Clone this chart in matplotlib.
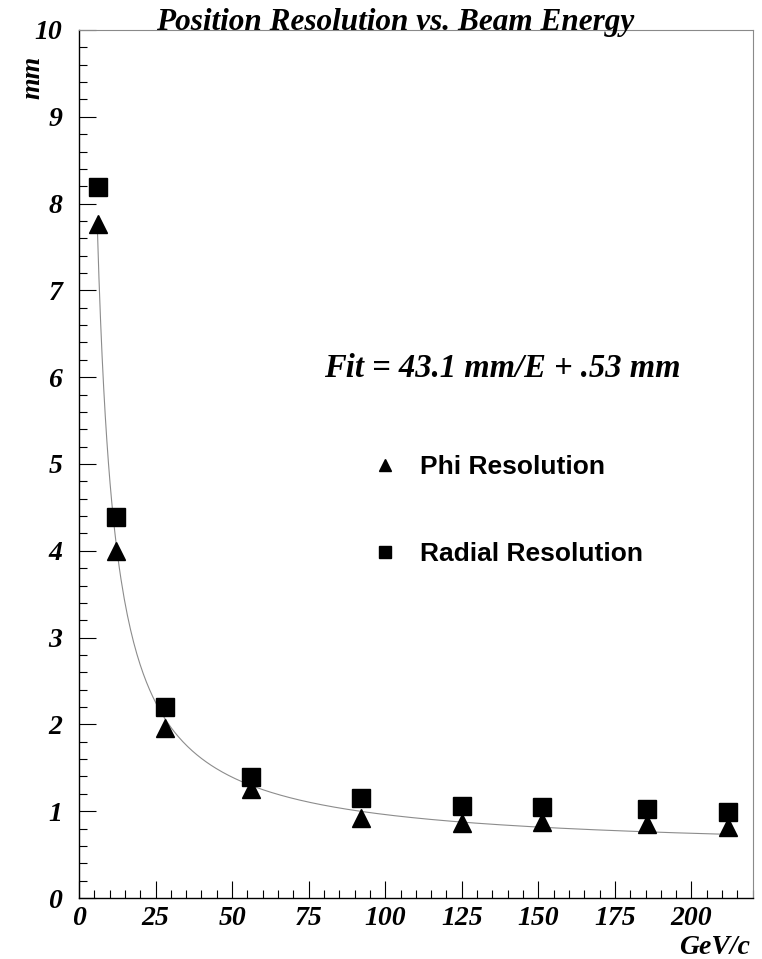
import numpy as np
import matplotlib
matplotlib.use('Agg')
import matplotlib.pyplot as plt
from matplotlib.ticker import MultipleLocator

# beam energy (GeV/c) and measured resolutions (mm)
energy = [6.1, 12.1, 28.1, 56.2, 92.1, 125.2, 151.1, 185.4, 212.0]
phi_res = [7.77, 4.00, 1.96, 1.26, 0.92, 0.86, 0.88, 0.85, 0.82]
radial_res = [8.19, 4.39, 2.20, 1.39, 1.155, 1.06, 1.05, 1.03, 0.99]

# fit: 43.1 mm/E + .53 mm
fit_a, fit_b = 43.1, 0.53
fit_range = (6.0, 212.0)

serif = 'Liberation Serif'
sans = 'Liberation Sans'

fig = plt.figure(figsize=(7.62, 9.59), dpi=100)
ax = fig.add_axes([79/762, 61/959, (752.7-79)/762, (898-30)/959])

# fit curve
ef = np.linspace(fit_range[0], fit_range[1], 400)
ax.plot(ef, fit_a/ef + fit_b, color='#8c8c8c', lw=0.8, zorder=1)

# data points
ax.plot(energy, phi_res, ls='none', marker='^', ms=12.5, color='black',
        label='Phi Resolution', zorder=3)
ax.plot(energy, radial_res, ls='none', marker='s', ms=13, color='black',
        label='Radial Resolution', zorder=3)

ax.set_xlim(0, 220)
ax.set_ylim(0, 10)
ax.xaxis.set_major_locator(MultipleLocator(25))
ax.xaxis.set_minor_locator(MultipleLocator(5))
ax.yaxis.set_major_locator(MultipleLocator(1))
ax.yaxis.set_minor_locator(MultipleLocator(0.2))
ax.tick_params(which='both', direction='in', top=False, right=False, width=0.8)
ax.tick_params(which='major', length=12)
ax.tick_params(which='minor', length=6)
ax.tick_params(axis='y', which='major', pad=12)
ax.tick_params(axis='x', which='major', pad=6)
for lab in ax.get_xticklabels() + ax.get_yticklabels():
    lab.set_family(serif)
    lab.set_fontweight('bold')
    lab.set_fontstyle('italic')
    lab.set_fontsize(20)

for s in ['left', 'bottom']:
    ax.spines[s].set_color('black')
    ax.spines[s].set_linewidth(1.0)
for s in ['top', 'right']:
    ax.spines[s].set_color('#8a8a8a')
    ax.spines[s].set_linewidth(0.8)

# title and axis titles
fig.text(0.518, 1 - 30/959, 'Position Resolution vs. Beam Energy', ha='center', va='baseline',
         family=serif, weight='bold', style='italic', fontsize=22.5)
fig.text(33/762, 1 - 77/959, 'mm', rotation=90, ha='center', va='center',
         family=serif, weight='bold', style='italic', fontsize=20)
fig.text(750/762, 1 - 954/959, 'GeV/c', ha='right', va='baseline',
         family=serif, weight='bold', style='italic', fontsize=20)

ax.text(80.0, 6.0, 'Fit = 43.1 mm/E + .53 mm', ha='left', va='baseline',
        family=serif, weight='bold', style='italic', fontsize=23.5)

leg = ax.legend(loc='upper left', bbox_to_anchor=(0.4, 0.538), frameon=False,
                markerscale=0.7, handlelength=1.0, handletextpad=0.8,
                labelspacing=2.4, prop={'family': sans, 'weight': 'bold', 'size': 19})

fig.savefig('out.png', dpi=100)
